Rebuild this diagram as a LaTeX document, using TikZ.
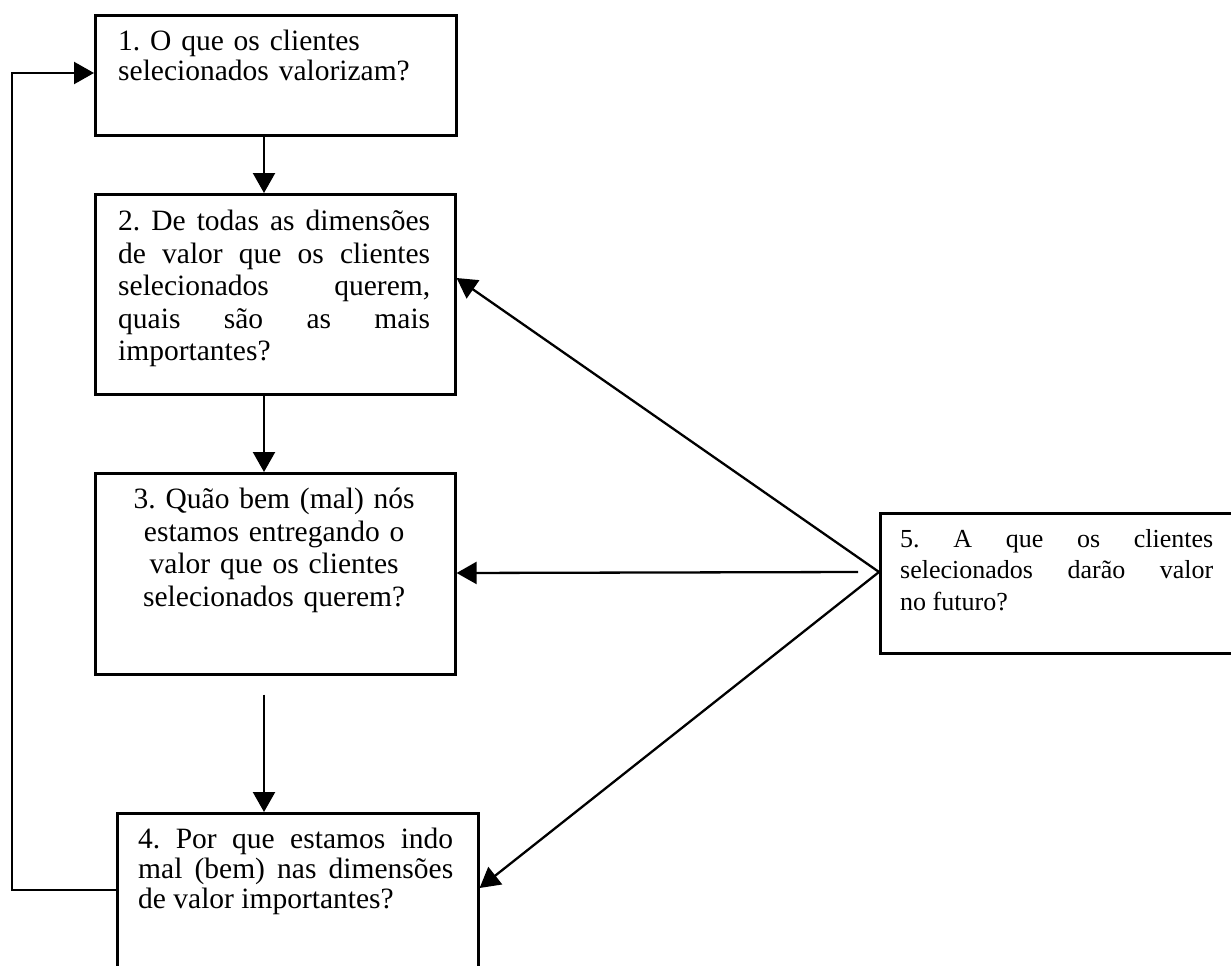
\documentclass[tikz,border=0pt]{standalone}
\usepackage{fontspec}
\setmainfont{Liberation Serif}
\usetikzlibrary{arrows.meta,calc}
\frenchspacing
\begin{document}
\begin{tikzpicture}[x=1pt,y=-1pt,
  box/.style={draw, line width=2.6pt, rectangle, inner sep=0pt, anchor=north west},
  qtext/.style={anchor=north west, inner sep=0pt, text width=312pt, align=justify,
    font=\fontsize{29.5}{32.5}\selectfont},
  ftext/.style={anchor=north west, inner sep=0pt, text width=313pt, align=justify,
    font=\fontsize{26}{31.5}\selectfont},
  link/.style={line width=2.3pt},
  arr/.style={link, -{Triangle[length=20pt,width=22pt]}}
]
\useasboundingbox (0,0) rectangle (1231,966);
\clip (0,0) rectangle (1231,966);
\fill[white] (0,0) rectangle (1231,966);

% the five question boxes
\node[box, minimum width=361pt, minimum height=120pt] (b1) at (94,14) {};
\node[box, minimum width=360pt, minimum height=200pt] (b2) at (94,193) {};
\node[box, minimum width=360pt, minimum height=201pt] (b3) at (94,472) {};
\node[box, minimum width=361pt, minimum height=180pt] (b4) at (116,812) {};
\node[box, minimum width=370pt, minimum height=140pt] (b5) at (879,512) {};

% their texts
\node[qtext, align=left, font=\fontsize{29.5}{30}\selectfont] (t1)
  at ($(b1.north west)+(24,16)$)
  {1. O que os clientes\\selecionados valorizam?};
\node[qtext] (t2) at ($(b2.north west)+(24,17)$)
  {2. De todas as dimensões\linebreak de valor que os clientes\linebreak
   selecionados querem,\linebreak quais são as mais\linebreak importantes?};
\node[qtext, align=center] (t3) at ($(b3.north west)+(24,16)$)
  {3. Quão bem (mal) nós\\estamos entregando o\\valor que os clientes\\selecionados querem?};
\node[qtext, text width=315pt, font=\fontsize{29.5}{30}\selectfont] (t4)
  at ($(b4.north west)+(22,16)$)
  {4. Por que estamos indo\linebreak mal (bem) nas dimensões\linebreak de valor importantes?};
\node[ftext] (t5) at ($(b5.north west)+(21,17)$)
  {5. A que os clientes\linebreak selecionados darão valor\linebreak no futuro?};

% connector end points
\coordinate (d1) at ($(b1.south west)+(170,0)$);
\coordinate (u2) at ($(b2.north west)+(170,0)$);
\coordinate (d2) at ($(b2.south west)+(170,0)$);
\coordinate (u3) at ($(b3.north west)+(170,0)$);
\coordinate (d3) at ($(b3.south west)+(170,19)$);
\coordinate (u4) at (d3 |- b4.north);
\coordinate (src) at ($(b5.north west)+(0,60)$);
\coordinate (hs) at ($(src)+(-21,0)$);
\coordinate (e2) at ($(b2.north east)+(0,85)$);
\coordinate (e3) at ($(b3.north east)+(0,101)$);
\coordinate (e4) at ($(b4.north east)+(0,76)$);
\coordinate (w4) at ($(b4.north west)+(0,78)$);
\coordinate (w1) at ($(b1.north west)+(0,59)$);

% main chain
\draw[arr] (d1) -- (u2);
\draw[arr] (d2) -- (u3);
\draw[arr] (d3) -- (u4);

% feedback loop from 4 back to 1
\draw[arr] (w4) -- ++(-104,0) |- (w1);

% influence of question 5
\draw[arr] (src) -- (e2);
\draw[arr] (hs) -- (e3);
\draw[arr] (src) -- (e4);
\end{tikzpicture}
\end{document}
